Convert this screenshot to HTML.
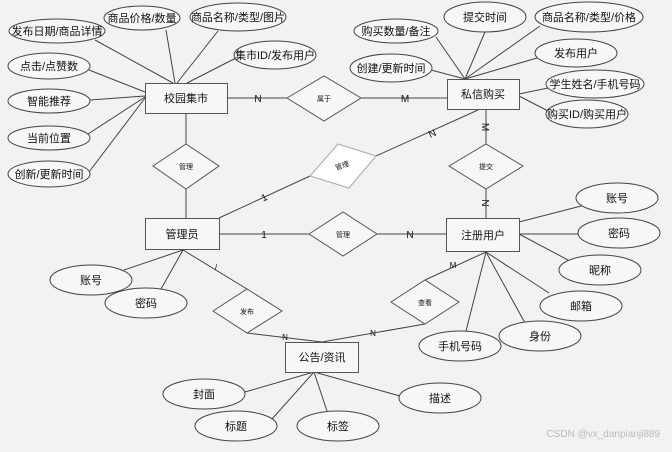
<!DOCTYPE html>
<html><head><meta charset="utf-8"><style>
html,body{margin:0;padding:0;background:#f2f2f2;}
svg text{font-family:"Liberation Sans","Noto Sans CJK SC",sans-serif;fill:#111;}
</style></head><body>
<svg width="672" height="447" viewBox="0 0 672 447" xmlns="http://www.w3.org/2000/svg">
<rect width="672" height="447" fill="#f2f2f2"/>
<g stroke="#444" stroke-width="1" fill="none">
<!-- 校园集市 attrs -->
<line x1="173" y1="83" x2="95" y2="40"/>
<line x1="175" y1="83" x2="166" y2="30"/>
<line x1="177" y1="83" x2="218" y2="31"/>
<line x1="187" y1="83" x2="236" y2="58"/>
<line x1="145" y1="92" x2="89" y2="70"/>
<line x1="145" y1="96" x2="90" y2="100"/>
<line x1="145" y1="97" x2="88" y2="134"/>
<line x1="145" y1="98" x2="89" y2="172"/>
<!-- relations -->
<line x1="227" y1="98" x2="287" y2="98"/>
<line x1="361" y1="98" x2="447" y2="98"/>
<line x1="186" y1="113" x2="186" y2="144"/>
<line x1="186" y1="189" x2="186" y2="218"/>
<line x1="219" y1="218" x2="310" y2="176"/>
<line x1="376" y1="156" x2="478" y2="110"/>
<line x1="486" y1="109" x2="486" y2="144"/>
<line x1="486" y1="189" x2="486" y2="218"/>
<line x1="219" y1="234" x2="309" y2="234"/>
<line x1="377" y1="234" x2="446" y2="234"/>
<line x1="183" y1="250" x2="124" y2="270"/>
<line x1="183" y1="250" x2="161" y2="289"/>
<line x1="183" y1="250" x2="247" y2="289"/>
<line x1="247" y1="333" x2="322" y2="342"/>
<line x1="322" y1="342" x2="425" y2="324"/>
<line x1="425" y1="280" x2="486" y2="252"/>
<!-- 注册用户 attrs -->
<line x1="486" y1="252" x2="466" y2="331"/>
<line x1="486" y1="252" x2="525" y2="323"/>
<line x1="486" y1="252" x2="549" y2="293"/>
<line x1="519" y1="234" x2="579" y2="234"/>
<line x1="519" y1="234" x2="568" y2="260"/>
<line x1="519" y1="222" x2="585" y2="205"/>
<!-- 公告 attrs -->
<line x1="314" y1="372" x2="245" y2="392"/>
<line x1="314" y1="372" x2="272" y2="419"/>
<line x1="314" y1="372" x2="327" y2="411"/>
<line x1="314" y1="372" x2="400" y2="396"/>
<!-- 私信购买 attrs -->
<line x1="465" y1="79" x2="436" y2="37"/>
<line x1="465" y1="79" x2="485" y2="32"/>
<line x1="465" y1="79" x2="540" y2="26"/>
<line x1="465" y1="79" x2="431" y2="70"/>
<line x1="465" y1="79" x2="537" y2="58"/>
<line x1="519" y1="94" x2="548" y2="88"/>
<line x1="519" y1="96" x2="550" y2="112"/>
</g>
<!-- entities -->
<g fill="#f7f7f7" stroke="#555" stroke-width="1">
<rect x="145.5" y="83.5" width="82" height="30"/>
<rect x="447.5" y="79.5" width="72" height="30"/>
<rect x="145.5" y="218.5" width="74" height="31"/>
<rect x="446.5" y="218.5" width="73" height="33"/>
<rect x="285.5" y="342.5" width="73" height="30"/>
</g>
<g font-size="11" text-anchor="middle">
<text x="186" y="102">校园集市</text>
<text x="483" y="98">私信购买</text>
<text x="182" y="238">管理员</text>
<text x="483" y="239">注册用户</text>
<text x="322" y="361">公告/资讯</text>
</g>
<!-- diamonds -->
<g fill="#f7f7f7" stroke="#555" stroke-width="1">
<polygon points="287,98 324,76 361,98 324,121"/>
<polygon points="153,166 186,144 219,166 186,189"/>
<polygon points="449,166 486,144 523,166 486,189"/>
<polygon points="309,234 343,212 377,234 343,256"/>
<polygon points="213,311 247,289 282,311 247,333"/>
<polygon points="391,302 425,280 459,302 425,324"/>
</g>
<polygon points="310,176 338,144 376,156 349,188" fill="#fff" stroke="#aaa"/>
<g font-size="7" text-anchor="middle">
<text x="324" y="101">属于</text>
<text x="186" y="169">管理</text>
<text x="486" y="169">提交</text>
<text x="343" y="237">管理</text>
<text x="247" y="314">发布</text>
<text x="425" y="305">查看</text>
<text x="0" y="0" transform="translate(343,168) rotate(-20)">管理</text>
</g>
<!-- cardinality labels -->
<g font-size="10" text-anchor="middle">
<text x="258" y="102">N</text>
<text x="405" y="102">M</text>
<text x="264" y="201" transform="rotate(-25 264 197)">1</text>
<text x="432" y="137" transform="rotate(-25 432 133)">N</text>
<text x="486" y="131" transform="rotate(90 486 127)">M</text>
<text x="486" y="207" transform="rotate(90 486 203)">N</text>
<text x="264" y="238">1</text>
<text x="410" y="238">N</text>
<text x="216" y="270" font-size="8">/</text>
<text x="285" y="340" font-size="8">N</text>
<text x="373" y="336" font-size="8">N</text>
<text x="453" y="268" font-size="8">M</text>
</g>
<!-- ellipses -->
<g fill="#f7f7f7" stroke="#444" stroke-width="1">
<ellipse cx="57" cy="31" rx="48" ry="12"/>
<ellipse cx="142" cy="18" rx="38" ry="12"/>
<ellipse cx="238" cy="17" rx="48" ry="14"/>
<ellipse cx="275" cy="55" rx="41" ry="14"/>
<ellipse cx="49" cy="66" rx="41" ry="13"/>
<ellipse cx="49" cy="101" rx="41" ry="12"/>
<ellipse cx="49" cy="138" rx="41" ry="12"/>
<ellipse cx="49" cy="174" rx="41" ry="13"/>
<ellipse cx="396" cy="31" rx="42" ry="12"/>
<ellipse cx="485" cy="17" rx="41" ry="15"/>
<ellipse cx="589" cy="17" rx="54" ry="15"/>
<ellipse cx="391" cy="68" rx="41" ry="14"/>
<ellipse cx="576" cy="53" rx="41" ry="14"/>
<ellipse cx="595" cy="84" rx="49" ry="14"/>
<ellipse cx="587" cy="114" rx="41" ry="14"/>
<ellipse cx="617" cy="198" rx="41" ry="15"/>
<ellipse cx="619" cy="233" rx="41" ry="15"/>
<ellipse cx="600" cy="270" rx="41" ry="15"/>
<ellipse cx="581" cy="306" rx="41" ry="15"/>
<ellipse cx="540" cy="336" rx="41" ry="15"/>
<ellipse cx="460" cy="346" rx="41" ry="15"/>
<ellipse cx="91" cy="280" rx="41" ry="15"/>
<ellipse cx="146" cy="303" rx="41" ry="15"/>
<ellipse cx="204" cy="394" rx="41" ry="15"/>
<ellipse cx="236" cy="426" rx="41" ry="15"/>
<ellipse cx="338" cy="426" rx="41" ry="15"/>
<ellipse cx="440" cy="398" rx="41" ry="15"/>
</g>
<g font-size="11" text-anchor="middle">
<text x="57" y="35">发布日期/商品详情</text>
<text x="142" y="22">商品价格/数量</text>
<text x="238" y="21">商品名称/类型/图片</text>
<text x="275" y="59">集市ID/发布用户</text>
<text x="49" y="70">点击/点赞数</text>
<text x="49" y="105">智能推荐</text>
<text x="49" y="142">当前位置</text>
<text x="49" y="178">创新/更新时间</text>
<text x="396" y="35">购买数量/备注</text>
<text x="485" y="21">提交时间</text>
<text x="589" y="21">商品名称/类型/价格</text>
<text x="391" y="72">创建/更新时间</text>
<text x="576" y="57">发布用户</text>
<text x="595" y="88">学生姓名/手机号码</text>
<text x="587" y="118">购买ID/购买用户</text>
<text x="617" y="202">账号</text>
<text x="619" y="237">密码</text>
<text x="600" y="274">昵称</text>
<text x="581" y="310">邮箱</text>
<text x="540" y="340">身份</text>
<text x="460" y="350">手机号码</text>
<text x="91" y="284">账号</text>
<text x="146" y="307">密码</text>
<text x="204" y="398">封面</text>
<text x="236" y="430">标题</text>
<text x="338" y="430">标签</text>
<text x="440" y="402">描述</text>
</g>
<text x="660" y="437" font-size="10" text-anchor="end" style="fill:#bbb">CSDN @vx_danpianji889</text>
</svg>
</body></html>
